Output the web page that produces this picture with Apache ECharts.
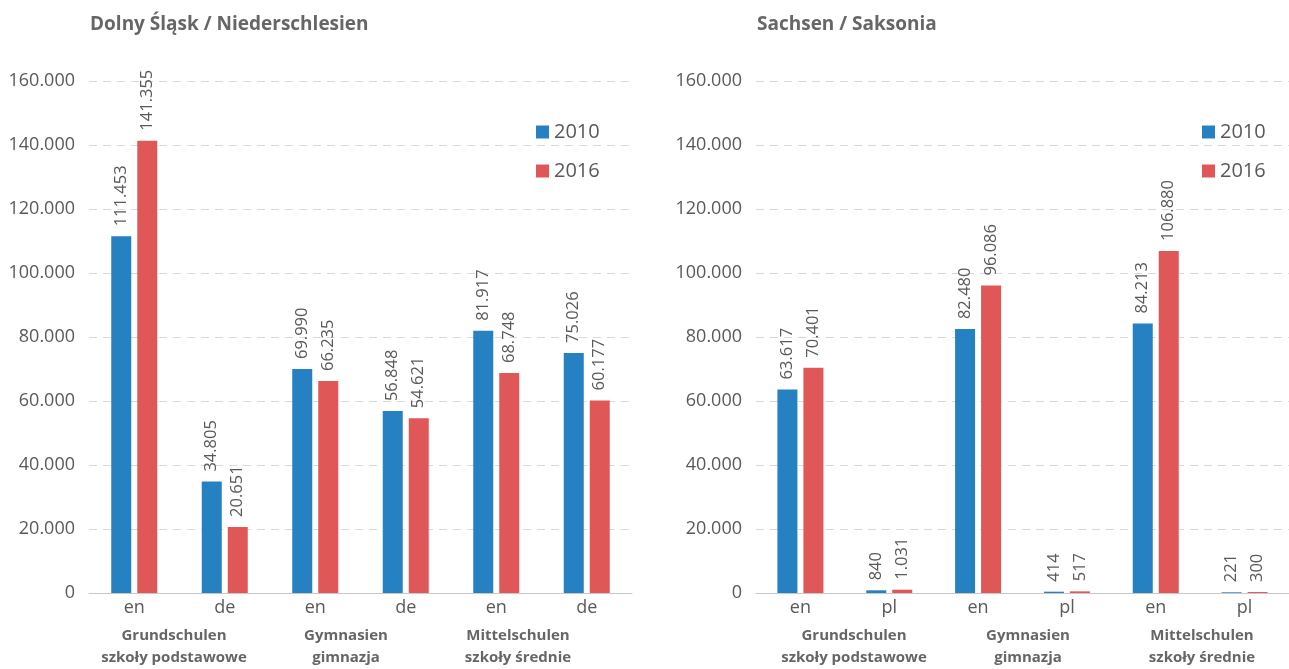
<!DOCTYPE html>
<html><head><meta charset="utf-8">
<script src="https://cdn.jsdelivr.net/npm/echarts@6/dist/echarts.min.js"></script>
<style>html,body{margin:0;padding:0;background:#fff}#c{width:1289px;height:669px}</style>
</head><body><div id="c"></div>
<script>
const years = ['2010', '2016'];
const leftTitle = 'Dolny Śląsk / Niederschlesien';
const rightTitle = 'Sachsen / Saksonia';
const leftCategories = ['en', 'de', 'en', 'de', 'en', 'de'];
const left2010 = [111453, 34805, 69990, 56848, 81917, 75026];
const left2016 = [141355, 20651, 66235, 54621, 68748, 60177];
const rightCategories = ['en', 'pl', 'en', 'pl', 'en', 'pl'];
const right2010 = [63617, 840, 82480, 414, 84213, 221];
const right2016 = [70401, 1031, 96086, 517, 106880, 300];
const groups = ['Grundschulen\nszkoły podstawowe', 'Gymnasien\ngimnazja', 'Mittelschulen\nszkoły średnie'];
const yTicks = {min: 0, max: 160000, interval: 20000};

const fmt = v => String(v).replace(/\B(?=(\d{3})+(?!\d))/g, '.');
const FONT = '"Open Sans", "DejaVu Sans", sans-serif';
const blue = '#2681c3', red = '#e05757';
const gray = '#595959';

const chart = echarts.init(document.getElementById('c'), null, {renderer: 'canvas'});

function yAxis(idx) {
  return {
    gridIndex: idx, type: 'value', min: yTicks.min, max: yTicks.max, interval: yTicks.interval,
    axisLine: {show: false}, axisTick: {show: false},
    axisLabel: {formatter: fmt, color: gray, fontSize: 18, fontFamily: FONT, margin: 14},
    splitLine: {lineStyle: {color: '#d9d9d9', type: [8, 6], width: 1}}
  };
}
function catAxis(idx, data) {
  return {
    gridIndex: idx, type: 'category', data: data,
    axisLine: {lineStyle: {color: '#c8c8c8', width: 1}}, axisTick: {show: false},
    axisLabel: {color: gray, fontSize: 18, fontFamily: FONT, margin: 6}
  };
}
function groupAxis(idx) {
  return {
    gridIndex: idx, type: 'category', data: groups,
    axisLine: {show: false}, axisTick: {show: false},
    axisLabel: {color: '#666666', fontSize: 15, fontWeight: 'bold', fontFamily: FONT, margin: 38, lineHeight: 22, interval: 0}
  };
}
function hiddenY(idx) { return {gridIndex: idx, type: 'value', show: false, min: 0, max: 1}; }

const labelCfg = {
  show: true, position: 'top', rotate: 90, align: 'left', verticalAlign: 'middle', distance: 10,
  color: gray, fontSize: 16.5, fontFamily: FONT, formatter: p => fmt(p.value)
};
function bar(name, data, axis, color) {
  return {
    name: name, type: 'bar', xAxisIndex: axis, yAxisIndex: axis, data: data,
    barWidth: 20, barGap: '30%', itemStyle: {color: color}, label: labelCfg
  };
}

const legendBase = {data: years, orient: 'vertical', top: 117, itemWidth: 13, itemHeight: 13, itemGap: 19,
  icon: 'rect', textStyle: {color: gray, fontSize: 20, fontFamily: FONT}};

chart.setOption({
  animation: false,
  textStyle: {fontFamily: FONT},
  title: [
    {text: leftTitle, left: 85, top: 10, textStyle: {color: '#666666', fontSize: 19, fontWeight: 'bold', fontFamily: FONT}},
    {text: rightTitle, left: 752, top: 10, textStyle: {color: '#666666', fontSize: 19, fontWeight: 'bold', fontFamily: FONT}}
  ],
  legend: [
    Object.assign({}, legendBase, {left: 531}),
    Object.assign({}, legendBase, {left: 1197})
  ],
  grid: [
    {left: 89, width: 543, top: 81, bottom: 76},
    {left: 756, width: 543, top: 81, bottom: 76},
    {left: 88, width: 516, top: 81, bottom: 76},
    {left: 767, width: 523, top: 81, bottom: 76}
  ],
  xAxis: [catAxis(0, leftCategories), catAxis(1, rightCategories), groupAxis(2), groupAxis(3)],
  yAxis: [yAxis(0), yAxis(1), hiddenY(2), hiddenY(3)],
  series: [
    bar(years[0], left2010, 0, blue),
    bar(years[1], left2016, 0, red),
    bar(years[0], right2010, 1, blue),
    bar(years[1], right2016, 1, red)
  ]
});
</script></body></html>
